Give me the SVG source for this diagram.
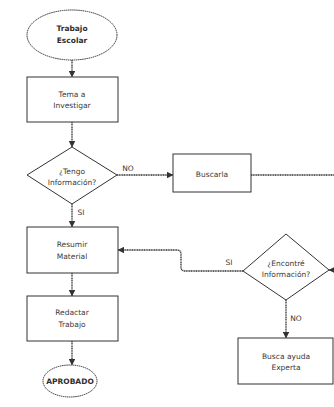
<svg xmlns="http://www.w3.org/2000/svg" width="334" height="407" viewBox="0 0 334 407">
  <defs>
    <style>
      .shape { fill: #ffffff; stroke: #333333; stroke-width: 1; }
      .term { fill: #ffffff; stroke: #333333; stroke-width: 1; stroke-dasharray: 1.5 0.6; }
      .link { fill: none; stroke: #333333; stroke-width: 1.3; stroke-dasharray: 1.2 0.5; }
      .lbl { font-family: "DejaVu Sans", Verdana, sans-serif; font-size: 7.5px; fill: #3a3a3a; text-anchor: middle; }
      .bold { font-weight: bold; fill: #2e2e2e; }
    </style>
    <marker id="arrow" viewBox="0 0 8 8" refX="7.5" refY="4" markerWidth="5" markerHeight="5" orient="auto">
      <path d="M0,0 L8,4 L0,8 z" fill="#333"/>
    </marker>
  </defs>
  <rect width="334" height="407" fill="#ffffff"/>

  <!-- connectors and their labels -->
  <g id="connectors">
    <line class="link" x1="72" y1="60" x2="72" y2="77" marker-end="url(#arrow)"/>
    <line class="link" x1="72" y1="122" x2="72" y2="147" marker-end="url(#arrow)"/>
    <line class="link" x1="117" y1="175" x2="173" y2="175" marker-end="url(#arrow)"/>
    <line class="link" x1="251" y1="175" x2="340" y2="175"/>
    <line class="link" x1="340" y1="270" x2="329" y2="270" marker-end="url(#arrow)"/>
    <line class="link" x1="72" y1="204" x2="72" y2="227" marker-end="url(#arrow)"/>
    <path class="link" d="M243,271 L185,271 Q181,271 181,267 L181,254 Q181,250 177,250 L118,250" marker-end="url(#arrow)"/>
    <line class="link" x1="286" y1="300" x2="286" y2="338" marker-end="url(#arrow)"/>
    <line class="link" x1="72" y1="273" x2="72" y2="296" marker-end="url(#arrow)"/>
    <line class="link" x1="72" y1="341" x2="72" y2="365" marker-end="url(#arrow)"/>
    <text class="lbl" x="128" y="171">NO</text>
    <text class="lbl" x="81" y="215">SI</text>
    <text class="lbl" x="229" y="265">SI</text>
    <text class="lbl" x="296" y="321">NO</text>
  </g>

  <g id="trabajo-escolar">
    <ellipse class="term" cx="72" cy="35" rx="45" ry="25"/>
    <text class="lbl bold" x="72" y="31" font-size="8.5">Trabajo</text>
    <text class="lbl bold" x="72" y="43" font-size="8.5">Escolar</text>
  </g>

  <g id="tema-investigar">
    <rect class="shape" x="27" y="77" width="91" height="45"/>
    <text class="lbl" x="72" y="97">Tema a</text>
    <text class="lbl" x="72" y="108">Investigar</text>
  </g>

  <g id="tengo-informacion">
    <polygon class="shape" points="72,147 117,175 72,204 27,175"/>
    <text class="lbl" x="72" y="174">¿Tengo</text>
    <text class="lbl" x="72" y="185">Información?</text>
  </g>

  <g id="buscarla">
    <rect class="shape" x="173" y="154" width="78" height="38"/>
    <text class="lbl" x="212" y="177">Buscarla</text>
  </g>

  <g id="resumir-material">
    <rect class="shape" x="27" y="227" width="91" height="46"/>
    <text class="lbl" x="72" y="247">Resumir</text>
    <text class="lbl" x="72" y="259">Material</text>
  </g>

  <g id="encontre-informacion">
    <polygon class="shape" points="286,234 329,270 286,300 243,271"/>
    <text class="lbl" x="286" y="266">¿Encontré</text>
    <text class="lbl" x="286" y="277">Información?</text>
  </g>

  <g id="redactar-trabajo">
    <rect class="shape" x="27" y="296" width="91" height="45"/>
    <text class="lbl" x="72" y="315">Redactar</text>
    <text class="lbl" x="72" y="327">Trabajo</text>
  </g>

  <g id="busca-ayuda">
    <rect class="shape" x="238" y="338" width="95" height="46"/>
    <text class="lbl" x="286" y="359">Busca ayuda</text>
    <text class="lbl" x="286" y="370">Experta</text>
  </g>

  <g id="aprobado">
    <ellipse class="term" cx="70" cy="381" rx="27" ry="16"/>
    <text class="lbl bold" x="70" y="383.5" font-size="5.5">APROBADO</text>
  </g>
</svg>
